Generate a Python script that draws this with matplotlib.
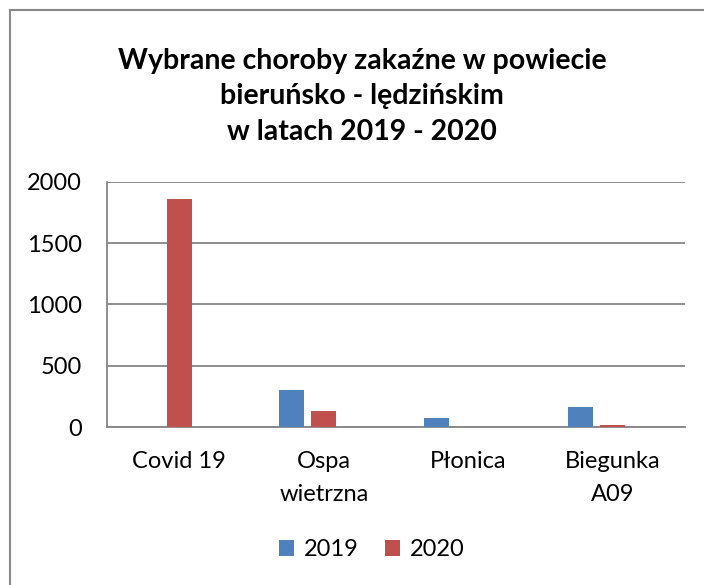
import matplotlib
matplotlib.use("Agg")
import matplotlib.pyplot as plt
import numpy as np
from matplotlib.lines import Line2D

plt.rcParams['font.family'] = ['Lato', 'DejaVu Sans']

# data
categories = ['Covid 19', 'Ospa\nwietrzna', 'Płonica', 'Biegunka\nA09']
series_names = ['2019', '2020']
values_2019 = [0, 302, 71, 161]
values_2020 = [1861, 131, 0, 14]
colors = ['#4F81BD', '#C0504D']

fig = plt.figure(figsize=(7.04, 5.85), dpi=100)
ax = fig.add_axes([0.152, 0.270, 0.821, 0.419])

x = np.arange(len(categories))
w = 0.173
# excel reserves three slots per category, third one empty
ax.bar(x - 0.2215, values_2019, w, color=colors[0], label=series_names[0], zorder=3)
ax.bar(x, values_2020, w, color=colors[1], label=series_names[1], zorder=3)

ax.set_xlim(-0.5, len(categories) - 0.5)
ax.set_ylim(0, 2000)
ax.set_yticks([0, 500, 1000, 1500, 2000])
ax.yaxis.grid(True, color='#868686', linewidth=1.3, zorder=0)
ax.set_xticks(x)
ax.set_xticklabels(categories, fontsize=17, linespacing=1.75)
ax.tick_params(axis='y', labelsize=17, length=0, pad=18)
ax.tick_params(axis='x', length=0, pad=17)
for s in ['top', 'right']:
    ax.spines[s].set_visible(False)
for s in ['left', 'bottom']:
    ax.spines[s].set_color('#868686')
    ax.spines[s].set_linewidth(1.3)

fig.text(0.514, 0.918, 'Wybrane choroby zakaźne w powiecie\nbieruńsko - lędzińskim\nw latach 2019 - 2020',
         ha='center', va='top', fontsize=20.5, fontweight='bold', linespacing=1.45)

fig.legend(loc='center', bbox_to_anchor=(0.528, 0.06), ncol=2, frameon=False,
           fontsize=17, handlelength=0.65, handleheight=0.65, handletextpad=0.4,
           columnspacing=1.1)

# outer chart border (only top and left edges show in the crop)
fig.add_artist(Line2D([10 / 704, 1], [1 - 10 / 585, 1 - 10 / 585], color='#888888', lw=1.5))
fig.add_artist(Line2D([10 / 704, 10 / 704], [0, 1 - 10 / 585], color='#888888', lw=1.5))

fig.savefig('out.png', dpi=100)
